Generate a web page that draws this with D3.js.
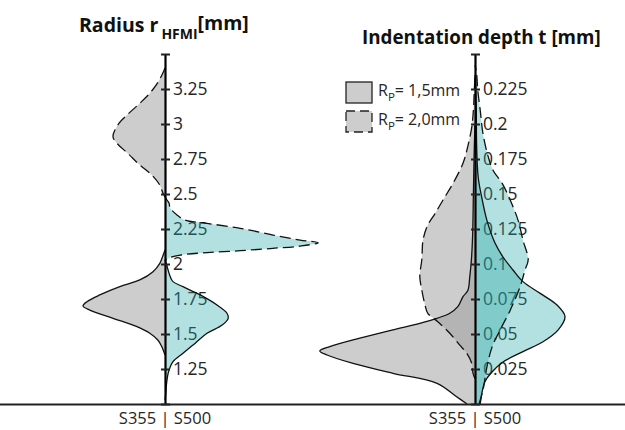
<!DOCTYPE html>
<html><head><meta charset="utf-8">
<script src="https://cdn.jsdelivr.net/npm/d3@7"></script>
<style>body{margin:0;background:#fff}svg{display:block}text{font-family:"Open Sans",sans-serif}</style>
</head><body><svg id="c" width="625" height="430"></svg>
<script>
// ---- DATA (value, half-width density) ----
const radiusTicks = [1.25,1.5,1.75,2,2.25,2.5,2.75,3,3.25];
const depthTicks = [0.025,0.05,0.075,0.1,0.125,0.15,0.175,0.2,0.225];
const groupLabel = "S355 | S500";
const legendLabels = ["1,5mm","2,0mm"];

// Radius r_HFMI, S355 (left half), Rp = 1.5 mm (solid)
const radiusS355Rp15 = [[2.10,0],[2.06,0.05],[2.005,0.13],[1.945,0.30],[1.886,0.63],[1.838,1.13],[1.779,1.63],[1.731,1.95],[1.70,2.05],[1.671,1.88],[1.612,1.30],[1.552,0.70],[1.505,0.38],[1.457,0.18],[1.41,0.08],[1.374,0.03],[1.35,0]];
// Radius, S500 (right half), Rp = 1.5 mm (solid)
const radiusS500Rp15 = [[2.03,0],[2.005,0.03],[1.91,0.13],[1.874,0.20],[1.838,0.45],[1.779,0.88],[1.707,1.30],[1.648,1.55],[1.612,1.58],[1.564,1.43],[1.505,1.05],[1.433,0.75],[1.362,0.45],[1.302,0.20],[1.231,0.09],[1.148,0.04],[1.076,0.02],[1.03,0]];
// Radius, S355, Rp = 2.0 mm (dashed)
const radiusS355Rp20 = [[3.40,0],[3.386,0.02],[3.30,0.17],[3.22,0.38],[3.148,0.63],[3.064,0.95],[2.993,1.18],[2.909,1.30],[2.862,1.20],[2.79,0.93],[2.707,0.63],[2.636,0.33],[2.564,0.13],[2.505,0.05],[2.48,0]];
// Radius, S500, Rp = 2.0 mm (dashed)
const radiusS500Rp20 = [[2.48,0],[2.457,0.05],[2.436,0.10],[2.40,0.13],[2.35,0.30],[2.314,0.50],[2.29,1.05],[2.255,1.88],[2.207,2.70],[2.171,3.38],[2.152,3.83],[2.128,3.38],[2.112,2.70],[2.095,1.88],[2.081,1.05],[2.064,0.38],[2.04,0.08],[2.02,0]];

// Indentation depth t, S355, Rp = 1.5 mm (solid)
const depthS355Rp15 = [[0,0.20],[0.005,0.45],[0.0148,0.95],[0.0219,2.05],[0.029,3.05],[0.035,3.70],[0.0379,3.88],[0.041,3.63],[0.047,2.88],[0.053,2.05],[0.0576,1.38],[0.0612,0.95],[0.0648,0.63],[0.0695,0.43],[0.0767,0.30],[0.081,0.18],[0.091,0.13],[0.103,0.09],[0.12,0.06],[0.15,0.04],[0.18,0.02],[0.20,0]];
// Depth, S500, Rp = 1.5 mm (solid)
const depthS500Rp15 = [[0,0.13],[0.016,0.25],[0.023,0.43],[0.030,0.70],[0.0374,1.20],[0.0445,1.70],[0.053,2.08],[0.0624,2.25],[0.0707,2.05],[0.079,1.63],[0.0874,1.20],[0.0957,0.95],[0.105,0.70],[0.115,0.50],[0.131,0.30],[0.146,0.18],[0.162,0.08],[0.186,0.04],[0.215,0.03],[0.235,0]];
// Depth, S355, Rp = 2.0 mm (dashed)
const depthS355Rp20 = [[0.018,0],[0.022,0.05],[0.029,0.08],[0.036,0.20],[0.042,0.38],[0.0505,0.63],[0.0588,0.93],[0.0648,1.18],[0.0707,1.25],[0.0814,1.33],[0.091,1.38],[0.103,1.33],[0.117,1.30],[0.1267,1.20],[0.136,1.00],[0.1457,0.80],[0.1576,0.55],[0.172,0.30],[0.184,0.18],[0.198,0.08],[0.21,0.04],[0.222,0.02],[0.235,0]];
// Depth, S500, Rp = 2.0 mm (dashed)
const depthS500Rp20 = [[0,0.10],[0.01,0.20],[0.0267,0.30],[0.041,0.43],[0.053,0.63],[0.067,0.88],[0.084,1.13],[0.0957,1.25],[0.103,1.33],[0.117,1.20],[0.131,1.08],[0.1457,0.88],[0.1576,0.68],[0.167,0.45],[0.1767,0.33],[0.193,0.20],[0.21,0.13],[0.224,0.07],[0.236,0.04],[0.242,0]];

// ---- DRAW ----
const svg = d3.select("#c");
const baseY = 404, topY = 54;
const wScale = d3.scaleLinear().domain([0,1]).range([0,40]);
const grayFill = "rgb(155,155,155)", grayOp = 0.5;
const cyanFill = "rgb(31,164,164)", cyanOp = 0.34;

const panels = [
  {cx:165, scale:d3.scaleLinear().domain([1,3.5]).range([baseY,topY]), ticks:radiusTicks, allTicks:[1,...radiusTicks,3.5],
   series:[{d:radiusS355Rp15,side:-1,dash:false},{d:radiusS355Rp20,side:-1,dash:true},{d:radiusS500Rp15,side:1,dash:false},{d:radiusS500Rp20,side:1,dash:true}]},
  {cx:475, scale:d3.scaleLinear().domain([0,0.25]).range([baseY,topY]), ticks:depthTicks, allTicks:[0,...depthTicks,0.25],
   series:[{d:depthS355Rp15,side:-1,dash:false},{d:depthS355Rp20,side:-1,dash:true},{d:depthS500Rp15,side:1,dash:false},{d:depthS500Rp20,side:1,dash:true}]}
];

svg.append("defs").append("clipPath").attr("id","clip").append("rect").attr("x",0).attr("y",0).attr("width",625).attr("height",baseY);

panels.forEach(p => {
  const fmt = d3.format("");
  svg.append("g").attr("transform",`translate(${p.cx},0)`)
    .call(d3.axisRight(p.scale).tickValues(p.ticks).tickSize(0).tickPadding(8).tickSizeOuter(0).tickFormat(d=>fmt(d)))
    .call(g=>g.select(".domain").remove())
    .call(g=>g.selectAll("text").attr("font-size",17.5).attr("fill","#262626").attr("font-family","'Open Sans',sans-serif"));

  const gV = svg.append("g").attr("clip-path","url(#clip)");
  p.series.forEach(s => {
    const area = d3.area().curve(d3.curveCatmullRom.alpha(0.5))
      .y(d=>p.scale(d[0])).x0(p.cx).x1(d=>p.cx + s.side*wScale(d[1]));
    gV.append("path").attr("d",area(s.d))
      .attr("fill", s.side<0?grayFill:cyanFill).attr("fill-opacity", s.side<0?grayOp:cyanOp);
  });
  p.series.forEach(s => {
    const line = d3.line().curve(d3.curveCatmullRom.alpha(0.5))
      .y(d=>p.scale(d[0])).x(d=>p.cx + s.side*wScale(d[1]));
    gV.append("path").attr("d",line(s.d)).attr("fill","none").attr("stroke","#111")
      .attr("stroke-width",1.3).attr("stroke-dasharray", s.dash?"11,5":null);
  });

  const ga = svg.append("g").attr("transform",`translate(${p.cx},0)`)
    .call(d3.axisRight(p.scale).tickValues(p.allTicks).tickSize(5).tickSizeOuter(0).tickFormat(""));
  ga.select(".domain").attr("stroke","#000").attr("stroke-width",2.2);
  ga.selectAll(".tick line").attr("x1",-4).attr("x2",5).attr("stroke","#222").attr("stroke-width",2);

  svg.append("text").attr("x",p.cx).attr("y",424).attr("text-anchor","middle")
    .attr("font-size",16.5).attr("fill","#262626").text(groupLabel);
});

svg.append("line").attr("x1",0).attr("x2",625).attr("y1",baseY+0.5).attr("y2",baseY+0.5)
  .attr("stroke","#222").attr("stroke-width",2);

const t1 = svg.append("text").attr("x",79).attr("y",32).attr("font-size",19.5).attr("font-weight","bold").attr("fill","#111");
t1.append("tspan").text("Radius r");
t1.append("tspan").attr("dx",3).attr("dy",7).attr("font-size",14).text("HFMI");
t1.append("tspan").attr("dy",-9).text("[mm]");
svg.append("text").attr("x",362).attr("y",44).attr("font-size",18.8).attr("font-weight","bold").attr("fill","#111")
  .text("Indentation depth t [mm]");

legendLabels.forEach((lab,i) => {
  const y0 = 82 + i*29;
  svg.append("rect").attr("x",346).attr("y",y0).attr("width",26).attr("height",21)
    .attr("fill","#cdcdcd").attr("stroke","#222").attr("stroke-width",1.3)
    .attr("stroke-dasharray", i===1?"9,5":null);
  const t = svg.append("text").attr("x",378).attr("y",y0+14).attr("font-size",16).attr("fill","#262626");
  t.append("tspan").text("R");
  t.append("tspan").attr("dy",5).attr("font-size",11.5).text("P");
  t.append("tspan").attr("dy",-5).text("= " + lab);
});
</script></body></html>
